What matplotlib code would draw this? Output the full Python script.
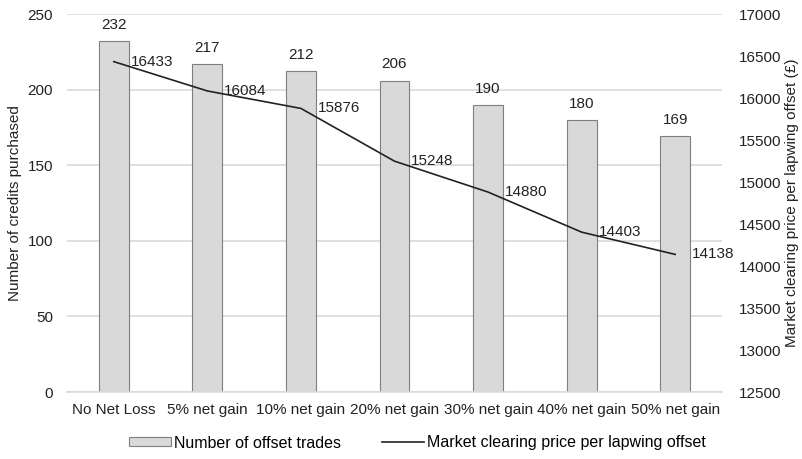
import matplotlib
matplotlib.use("Agg")
import matplotlib.pyplot as plt
from matplotlib.patches import Patch
from matplotlib.lines import Line2D

plt.rcParams['font.family'] = ['Liberation Sans', 'DejaVu Sans']

categories = ["No Net Loss", "5% net gain", "10% net gain", "20% net gain",
              "30% net gain", "40% net gain", "50% net gain"]
trades = [232, 217, 212, 206, 190, 180, 169]
prices = [16433, 16084, 15876, 15248, 14880, 14403, 14138]

FS = 11
fig = plt.figure(figsize=(8.03, 4.59), dpi=100)
ax = fig.add_axes([67/803, 1-392/459, (722-67)/803, (392-14)/459])
ax2 = ax.twinx()

x = list(range(len(categories)))
ax.bar(x, trades, width=0.32, color="#d9d9d9", edgecolor="#7f7f7f", linewidth=0.8, zorder=2)
for xi, v in zip(x, trades):
    ax.text(xi, v + 6, str(v), ha="center", va="bottom", fontsize=FS, color="#222222")
ax.set_ylim(0, 250)
ax.set_yticks(range(0, 251, 50))
ax.set_xlim(-0.5, len(categories) - 0.5)
ax.set_xticks(x)
ax.set_xticklabels(categories, fontsize=FS, color="#222222")
ax.yaxis.grid(True, color="#d9d9d9", linewidth=1.2, zorder=0)
ax.set_axisbelow(True)
for s in ax.spines.values():
    s.set_visible(False)
ax.spines['bottom'].set_visible(True)
ax.spines['bottom'].set_color("#d9d9d9")
ax.spines['bottom'].set_linewidth(1.2)
ax.tick_params(axis='both', length=0, labelsize=FS, colors="#222222")
ax.tick_params(axis='x', pad=8)
ax.tick_params(axis='y', pad=10)
ax.set_ylabel("Number of credits purchased", fontsize=FS, color="#222222", labelpad=4)

ax2.plot(x, prices, color="#222222", linewidth=1.2, zorder=3)
for xi, v in zip(x, prices):
    ax2.text(xi + 0.18, v, str(v), ha="left", va="center", fontsize=FS, color="#222222")
ax2.set_ylim(12500, 17000)
ax2.set_yticks(range(12500, 17001, 500))
for s in ax2.spines.values():
    s.set_visible(False)
ax2.tick_params(axis='y', length=0, labelsize=FS, colors="#222222", pad=12)
ax2.set_ylabel("Market clearing price per lapwing offset (£)", fontsize=FS, color="#222222", labelpad=3)

handles = [Patch(facecolor="#d9d9d9", edgecolor="#7f7f7f", linewidth=0.8),
           Line2D([0], [0], color="#222222", linewidth=1.2)]
labels = ["Number of offset trades", "Market clearing price per lapwing offset"]
fig.legend(handles, labels, loc="center", bbox_to_anchor=(0.52, 1-443/459), ncol=2,
           frameon=False, fontsize=11.5, handlelength=2.6, handleheight=0.5,
           columnspacing=2.6, handletextpad=0.2)

fig.savefig("out.png", dpi=100)
